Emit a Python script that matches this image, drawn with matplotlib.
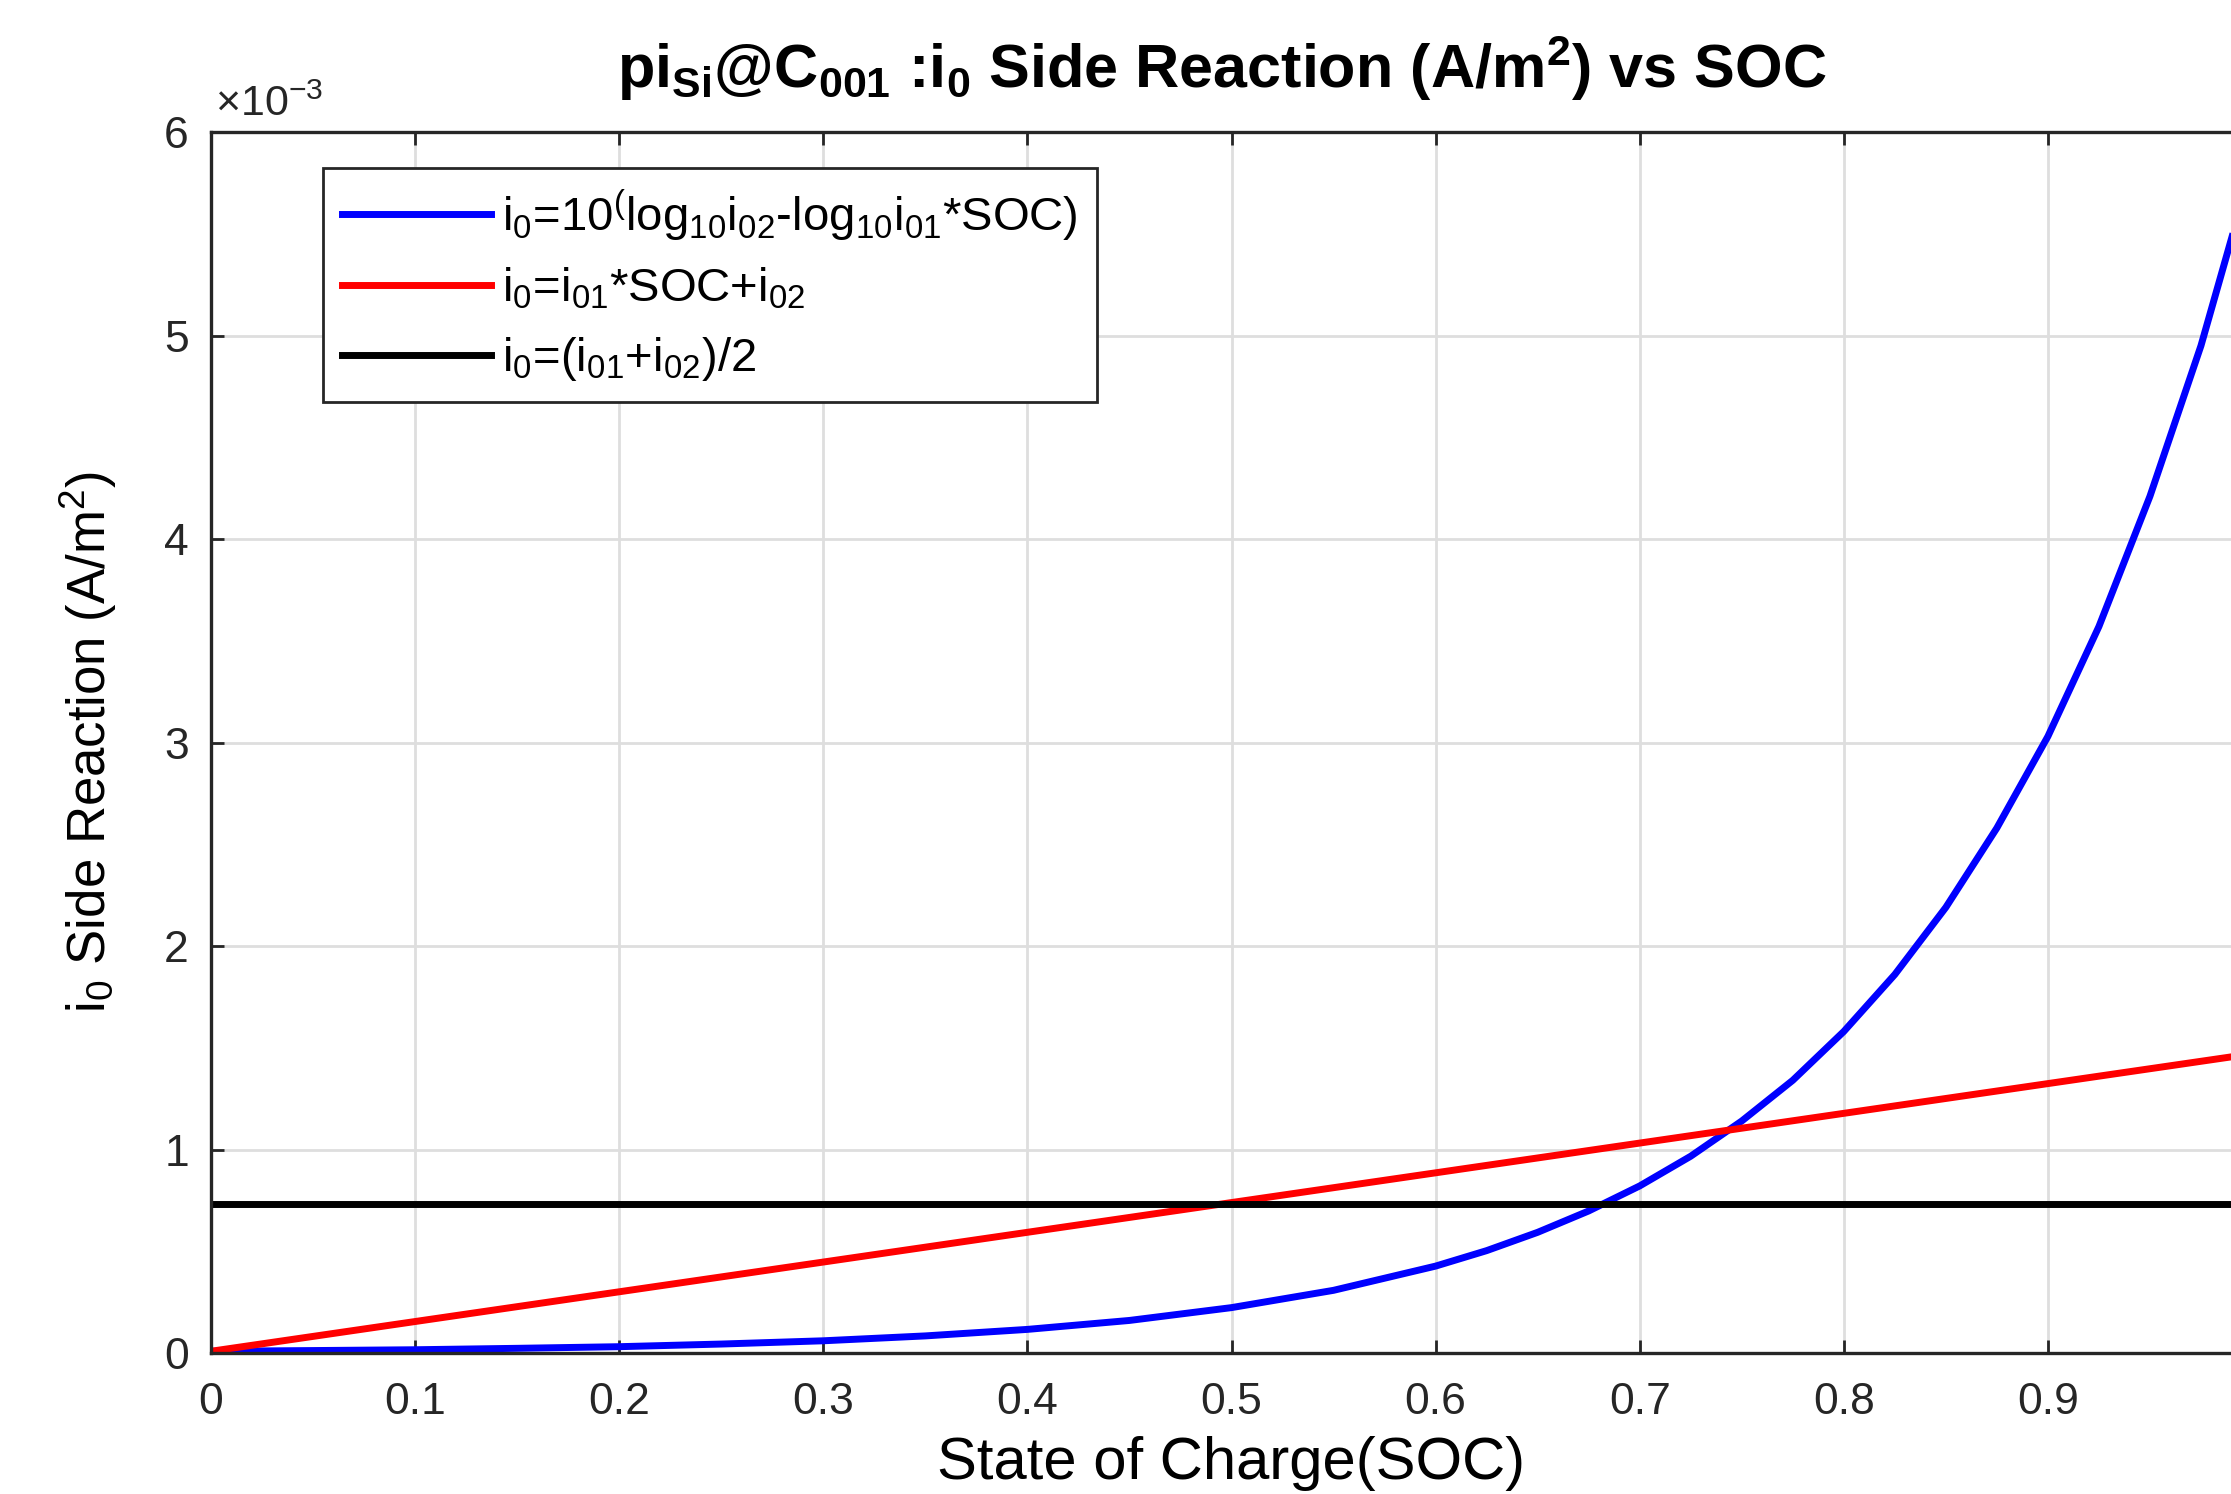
import matplotlib
matplotlib.use('Agg')
import matplotlib.pyplot as plt

plt.rcParams['font.family'] = ['Liberation Sans', 'DejaVu Sans']
plt.rcParams['mathtext.fontset'] = 'custom'
plt.rcParams['mathtext.rm'] = 'Liberation Sans'
plt.rcParams['mathtext.it'] = 'Liberation Sans:italic'
plt.rcParams['mathtext.bf'] = 'Liberation Sans:bold'
plt.rcParams['mathtext.default'] = 'regular'

# values (A/m^2)
soc_exp = [0.0, 0.05, 0.1, 0.15, 0.2, 0.25, 0.3, 0.35, 0.4, 0.45, 0.5, 0.55, 0.6,
           0.625, 0.65, 0.675, 0.7, 0.725, 0.75, 0.775, 0.8, 0.825, 0.85, 0.875,
           0.9, 0.925, 0.95, 0.975, 1.0]
i0_exp = [0.0085e-3, 0.012e-3, 0.016e-3, 0.023e-3, 0.031e-3, 0.044e-3, 0.060e-3,
          0.084e-3, 0.116e-3, 0.160e-3, 0.223e-3, 0.308e-3, 0.427e-3, 0.503e-3,
          0.593e-3, 0.698e-3, 0.821e-3, 0.967e-3, 1.14e-3, 1.34e-3, 1.58e-3,
          1.86e-3, 2.19e-3, 2.58e-3, 3.03e-3, 3.57e-3, 4.21e-3, 4.95e-3, 5.83e-3]

soc_lin = [0.0, 1.0]
i0_lin = [0.0085e-3, 1.47e-3]

soc_avg = [0.0, 1.0]
i0_avg = [0.73e-3, 0.73e-3]

xtick_vals = [0, 0.1, 0.2, 0.3, 0.4, 0.5, 0.6, 0.7, 0.8, 0.9, 1.0]
xtick_labels = ['0', '0.1', '0.2', '0.3', '0.4', '0.5', '0.6', '0.7', '0.8', '0.9', '']
ytick_vals = [0, 1e-3, 2e-3, 3e-3, 4e-3, 5e-3, 6e-3]
ytick_labels = ['0', '1', '2', '3', '4', '5', '6']

W, H = 2231, 1494
fig = plt.figure(figsize=(W / 100, H / 100), dpi=100)
ax = fig.add_axes([211 / W, 141 / H, 2041 / W, 1221 / H])

ax.grid(True, color='#dedede', linewidth=2.0)
ax.set_axisbelow(True)

ax.plot(soc_exp, i0_exp, color='#0000ff', linewidth=5,
        label=r'i$_0$=10$^{(}$log$_{10}$i$_{02}$-log$_{10}$i$_{01}$*SOC)')
ax.plot(soc_lin, i0_lin, color='#ff0000', linewidth=5,
        label=r'i$_0$=i$_{01}$*SOC+i$_{02}$')
ax.plot(soc_avg, i0_avg, color='black', linewidth=5,
        label=r'i$_0$=(i$_{01}$+i$_{02}$)/2')

ax.set_xlim(0, 1)
ax.set_ylim(0, 6e-3)
ax.set_xticks(xtick_vals)
ax.set_xticklabels(xtick_labels)
ax.set_yticks(ytick_vals)
ax.set_yticklabels(ytick_labels)

ax.tick_params(direction='in', length=9.5, width=2.0, color='#262626',
               labelcolor='#262626', labelsize=32, top=True, right=True)
ax.tick_params(axis='x', pad=21)
ax.tick_params(axis='y', pad=16)
for sp in ax.spines.values():
    sp.set_linewidth(2.4)
    sp.set_color('#262626')

ax.text(0.002, 1.006, r'$\times$10$^{-3}$', transform=ax.transAxes, ha='left',
        va='bottom', fontsize=31, color='#262626')

ax.set_xlabel('State of Charge(SOC)', fontsize=43)
ax.xaxis.set_label_coords(0.5, -0.068)
ax.set_ylabel(r'i$_0$ Side Reaction (A/m$^2$)', fontsize=38)
ax.yaxis.label.set_va('center')
ax.yaxis.set_label_coords(-0.06, 0.5)

fig.text(1222 / W, 1 - 88 / H,
         r'pi$_{\mathbf{Si}}$@C$_{\mathbf{001}}$ :i$_{\mathbf{0}}$ Side Reaction (A/m$^{\mathbf{2}}$) vs SOC',
         ha='center', va='baseline', fontsize=44, fontweight='bold')

leg = ax.legend(loc='upper left', bbox_to_anchor=((323 - 211) / 2041, (1353 - 168) / 1221),
                borderaxespad=0, fontsize=34, handlelength=3.15, handletextpad=0.24,
                labelspacing=0.5, borderpad=0.4, fancybox=False, framealpha=1,
                edgecolor='#262626')
leg.get_frame().set_linewidth(2.0)

fig.savefig('out.png', dpi=100)
